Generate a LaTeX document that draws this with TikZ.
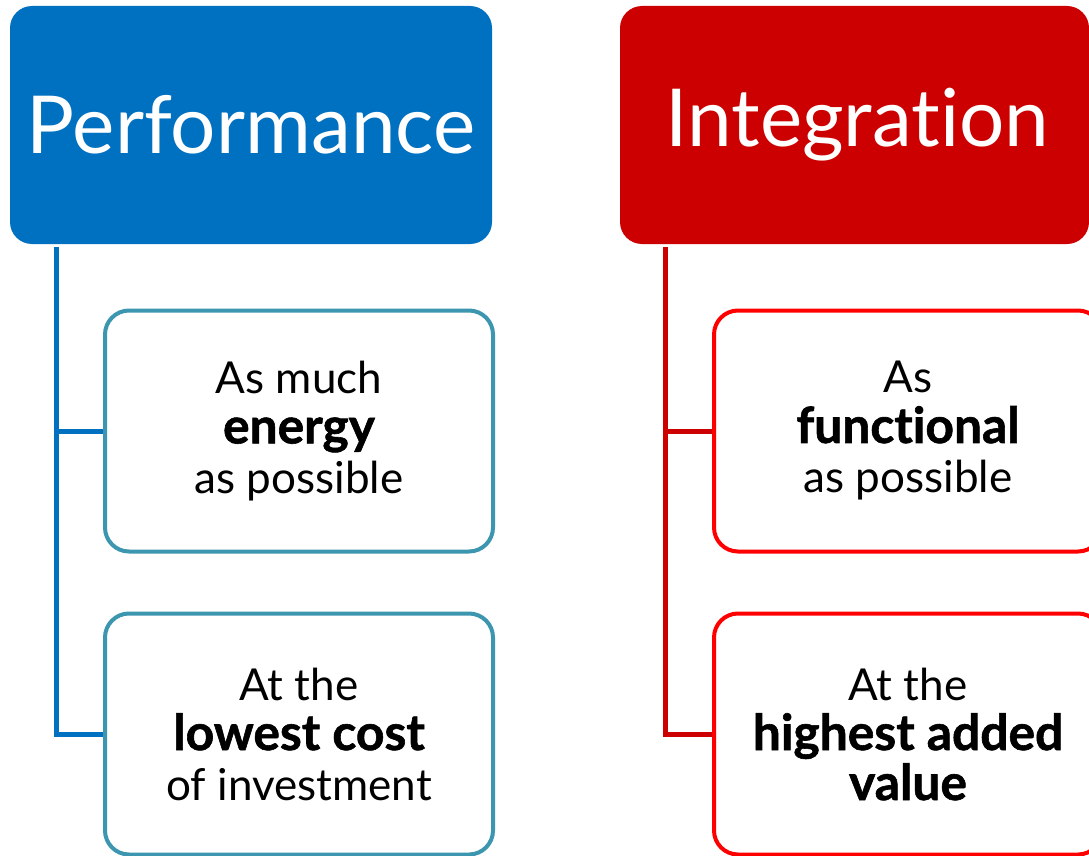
\documentclass[tikz,border=0pt]{standalone}
\usepackage{fontspec}
\setmainfont{Lato}[Ligatures=NoCommon, BoldFeatures={Scale=1.13, FakeBold=1.2}]
\definecolor{pblue}{HTML}{0070C0}
\definecolor{ired}{HTML}{CC0000}
\definecolor{tealb}{HTML}{3C96B0}
\definecolor{bred}{HTML}{FF0000}
\tikzset{
  hdr/.style={rounded corners=22pt, text=white, inner sep=0pt,
    font=\fontsize{80}{96}\selectfont},
  child/.style={rounded corners=24pt, line width=4pt, fill=white, inner sep=0pt,
    minimum width=388pt, minimum height=241pt, align=center,
    font=\fontsize{44}{50}\selectfont},
  bline/.style={draw=pblue, line width=5pt},
  rline/.style={draw=ired, line width=5pt},
}
\begin{document}
\begin{tikzpicture}[x=1pt,y=-1pt]
\useasboundingbox (0,0) rectangle (1089,856);
\clip (0,0) rectangle (1089,856);
\node[hdr, fill=pblue, minimum width=482pt, minimum height=238pt] (perf) at (251,125) {Performance};
\node[hdr, fill=ired, minimum width=469pt, minimum height=238pt] (integ) at (854.5,125) {\hspace{6pt}Integration};
\node[child, draw=tealb] (p1) at (299,431) {As much\\\textbf{energy}\\as possible};
\node[child, draw=tealb] (p2) at (299,734) {At the\\\textbf{lowest cost}\\of investment};
\node[child, draw=bred] (i1) at (908,431) {As\\\textbf{functional}\\as possible};
\node[child, draw=bred] (i2) at (908,734) {At the\\\textbf{highest added}\\\textbf{value}};
\coordinate (pt) at (56,247);
\coordinate (it) at (665,247);
\draw[bline] (pt) |- (p2.west);
\draw[bline] (pt |- p1.west) -- (p1.west);
\draw[rline] (it) |- (i2.west);
\draw[rline] (it |- i1.west) -- (i1.west);
\end{tikzpicture}
\end{document}
